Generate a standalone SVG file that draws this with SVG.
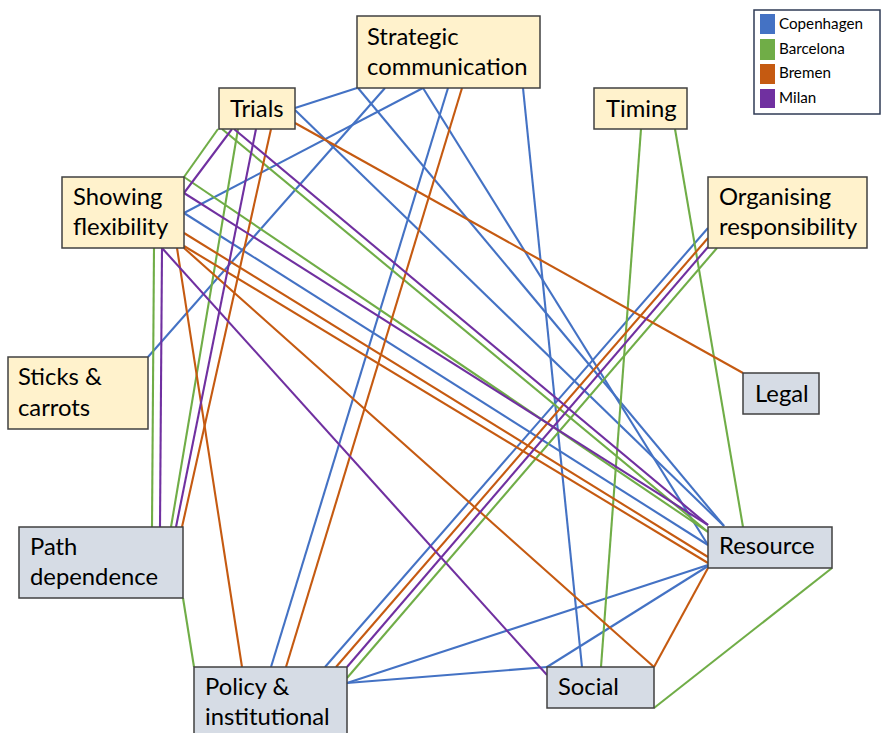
<svg xmlns="http://www.w3.org/2000/svg" width="881" height="733" viewBox="0 0 881 733">
<style>
.b{stroke:#4472C4}.g{stroke:#70AD47}.o{stroke:#C55A11}.p{stroke:#7030A0}
#edges line{stroke-width:2.1;fill:none}
.tan{fill:#FFF2CC;stroke:#404040;stroke-width:1.5}
.gry{fill:#D6DCE5;stroke:#404040;stroke-width:1.5}
.t{font-family:Lato,"Open Sans","Liberation Sans",sans-serif;font-size:23.8px;fill:#000}
.lt{font-family:Lato,"Open Sans","Liberation Sans",sans-serif;font-size:15.2px;fill:#000}
</style>
<rect width="881" height="733" fill="#fff"/>
<g id="edges">
<line class="b" x1="295" y1="108" x2="357" y2="88"/>
<line class="b" x1="295" y1="110" x2="724" y2="526"/>
<line class="b" x1="358" y1="88" x2="724" y2="526"/>
<line class="b" x1="385" y1="88" x2="148" y2="357"/>
<line class="b" x1="423" y1="88" x2="184" y2="213"/>
<line class="b" x1="423" y1="88" x2="708" y2="545"/>
<line class="b" x1="448" y1="88" x2="271" y2="667"/>
<line class="b" x1="523" y1="88" x2="582" y2="667"/>
<line class="b" x1="184" y1="213" x2="708" y2="545"/>
<line class="b" x1="708" y1="228" x2="325" y2="667"/>
<line class="b" x1="347" y1="683" x2="708" y2="565"/>
<line class="b" x1="347" y1="683" x2="547" y2="667"/>
<line class="b" x1="547" y1="667" x2="708" y2="566"/>
<line class="g" x1="218" y1="129" x2="184" y2="177"/>
<line class="g" x1="222" y1="129" x2="708" y2="532"/>
<line class="g" x1="184" y1="177" x2="708" y2="532"/>
<line class="g" x1="238" y1="129" x2="171" y2="527"/>
<line class="g" x1="154" y1="248" x2="152" y2="527"/>
<line class="g" x1="183" y1="598" x2="194" y2="667"/>
<line class="g" x1="641" y1="129" x2="601" y2="667"/>
<line class="g" x1="675" y1="129" x2="743" y2="527"/>
<line class="g" x1="717" y1="248" x2="347" y2="678"/>
<line class="g" x1="832" y1="568" x2="654" y2="708"/>
<line class="o" x1="295" y1="123" x2="743" y2="373"/>
<line class="o" x1="271" y1="129" x2="182" y2="527"/>
<line class="o" x1="462" y1="88" x2="286" y2="667"/>
<line class="o" x1="184" y1="233" x2="708" y2="557"/>
<line class="o" x1="184" y1="246" x2="708" y2="563"/>
<line class="o" x1="184" y1="248" x2="654" y2="667"/>
<line class="o" x1="177" y1="248" x2="242" y2="667"/>
<line class="o" x1="708" y1="238" x2="336" y2="667"/>
<line class="o" x1="654" y1="667" x2="708" y2="568"/>
<line class="p" x1="232" y1="129" x2="184" y2="193"/>
<line class="p" x1="234" y1="129" x2="708" y2="525"/>
<line class="p" x1="184" y1="193" x2="708" y2="525"/>
<line class="p" x1="256" y1="129" x2="176" y2="527"/>
<line class="p" x1="162" y1="248" x2="160" y2="527"/>
<line class="p" x1="162" y1="248" x2="547" y2="675"/>
<line class="p" x1="708" y1="247" x2="347" y2="667"/>
</g>
<g id="strategic"><rect class="tan" x="357" y="16" width="183" height="72"/><text class="t" x="367" y="45">Strategic</text><text class="t" x="367" y="75">communication</text></g>
<g id="trials"><rect class="tan" x="219" y="88" width="76" height="41"/><text class="t" x="230" y="117">Trials</text></g>
<g id="timing"><rect class="tan" x="594" y="88" width="93" height="41"/><text class="t" x="606" y="117">Timing</text></g>
<g id="organising"><rect class="tan" x="708" y="177" width="159" height="71"/><text class="t" x="719" y="205">Organising</text><text class="t" x="719" y="235">responsibility</text></g>
<g id="showing"><rect class="tan" x="62" y="177" width="122" height="71"/><text class="t" x="73" y="205">Showing</text><text class="t" x="73" y="235">flexibility</text></g>
<g id="sticks"><rect class="tan" x="8" y="357" width="140" height="72"/><text class="t" x="18" y="385">Sticks &amp;</text><text class="t" x="18" y="416">carrots</text></g>
<g id="path"><rect class="gry" x="19" y="527" width="164" height="71"/><text class="t" x="30" y="555">Path</text><text class="t" x="30" y="585">dependence</text></g>
<g id="legal"><rect class="gry" x="743" y="373" width="76" height="41"/><text class="t" x="755" y="402">Legal</text></g>
<g id="resource"><rect class="gry" x="708" y="527" width="124" height="41"/><text class="t" x="719" y="554">Resource</text></g>
<g id="policy"><rect class="gry" x="194" y="667" width="153" height="75"/><text class="t" x="205" y="695">Policy &amp;</text><text class="t" x="205" y="725">institutional</text></g>
<g id="social"><rect class="gry" x="547" y="667" width="107" height="41"/><text class="t" x="558" y="695">Social</text></g>
<g id="legend">
<rect x="754" y="10" width="126" height="104" fill="#fff" stroke="#2F3B55" stroke-width="1.5"/>
<rect x="760" y="14" width="15" height="20" fill="#4472C4"/>
<rect x="760" y="39" width="15" height="21" fill="#70AD47"/>
<rect x="760" y="64" width="15" height="20" fill="#C55A11"/>
<rect x="760" y="89" width="15" height="19" fill="#7030A0"/>
<text class="lt" x="779" y="29">Copenhagen</text>
<text class="lt" x="779" y="54">Barcelona</text>
<text class="lt" x="779" y="78">Bremen</text>
<text class="lt" x="779" y="103">Milan</text>
</g>
</svg>
